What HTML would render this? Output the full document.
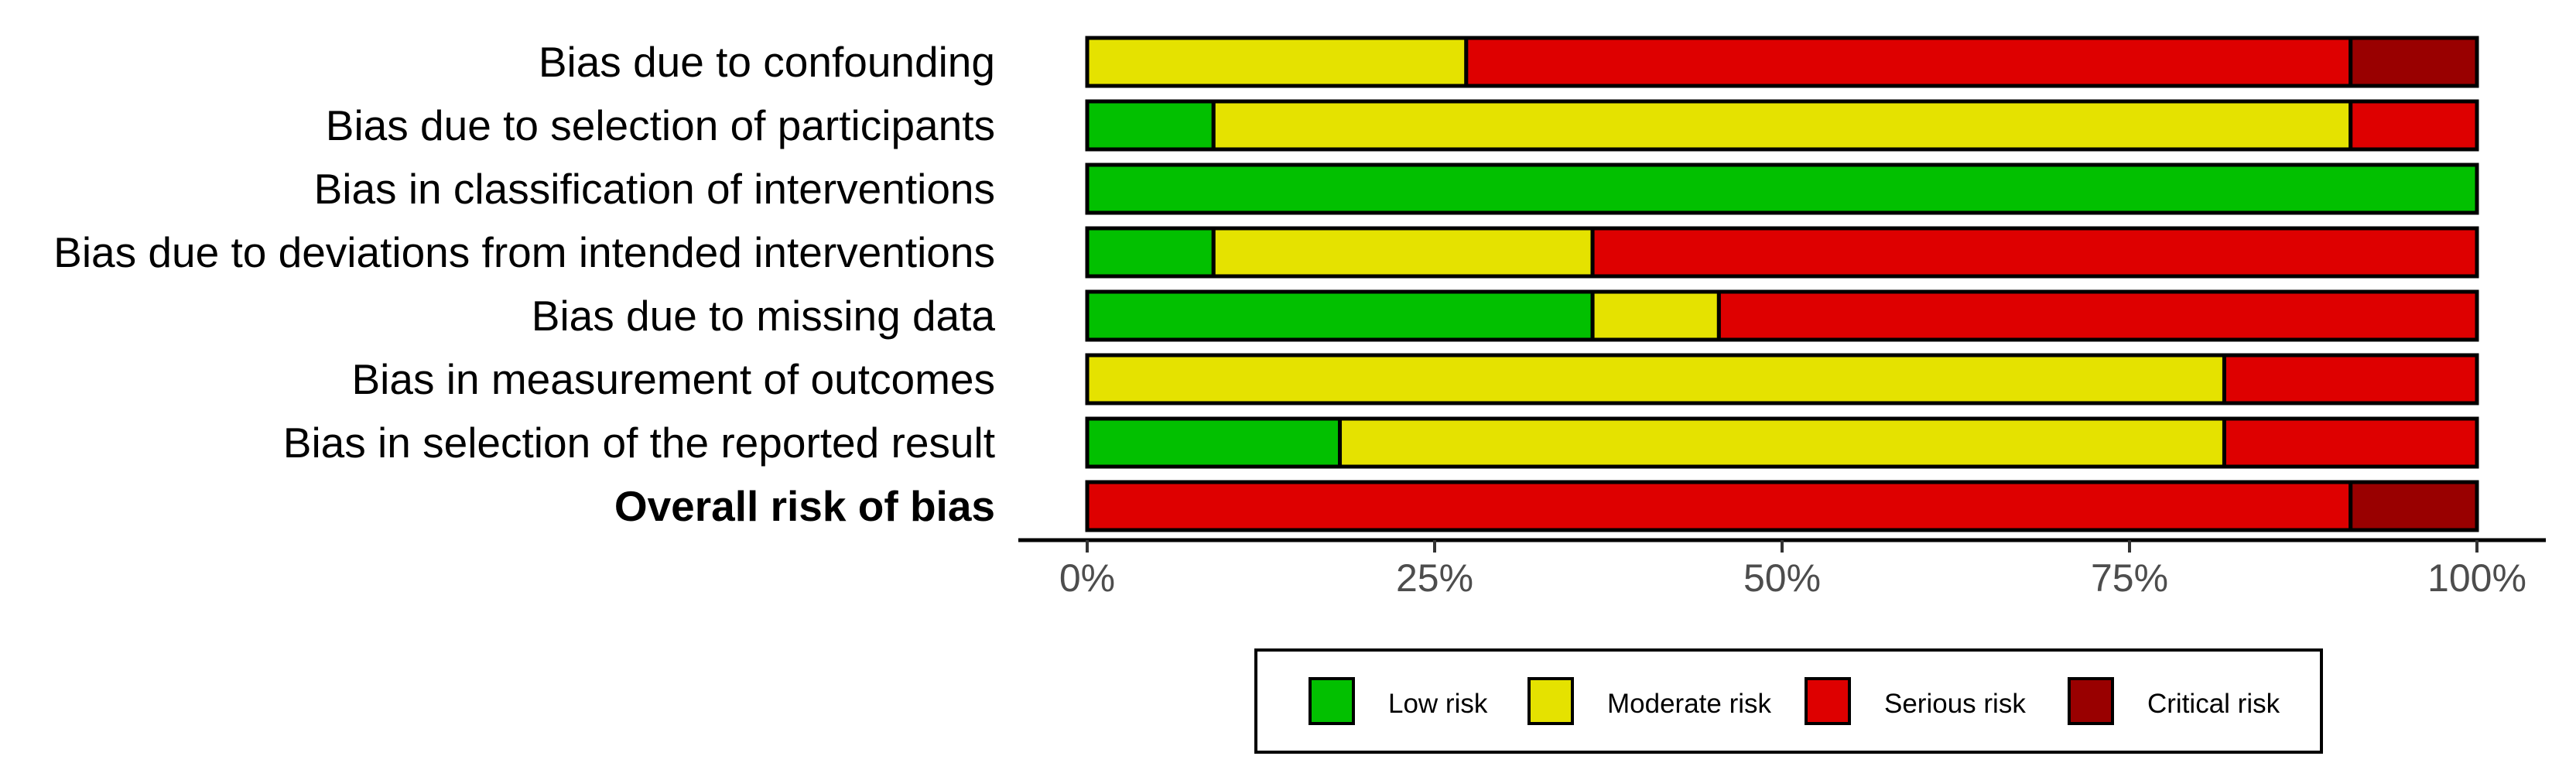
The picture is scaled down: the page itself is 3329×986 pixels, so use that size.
<!DOCTYPE html>
<html><head><meta charset="utf-8"><style>
html,body{margin:0;padding:0;background:#fff;}
svg{display:block;}
</style></head><body>
<svg id="chart" width="3329" height="986" viewBox="0 0 3329 986" xmlns="http://www.w3.org/2000/svg" font-family="'Liberation Sans', sans-serif">
<g id="labels"></g>
<g id="bars"></g>
<g id="axis"></g>
<g id="legend"></g>
</svg>
<script>
const domains = ["Bias due to confounding","Bias due to selection of participants","Bias in classification of interventions","Bias due to deviations from intended interventions","Bias due to missing data","Bias in measurement of outcomes","Bias in selection of the reported result","Overall risk of bias"];
const lowRisk = [0, 1, 11, 1, 4, 0, 2, 0];
const moderateRisk = [3, 9, 0, 3, 1, 9, 7, 0];
const seriousRisk = [7, 1, 0, 7, 6, 2, 2, 10];
const criticalRisk = [1, 0, 0, 0, 0, 0, 0, 1];
const tickValues = [0, 25, 50, 75, 100];
const tickLabels = ["0%", "25%", "50%", "75%", "100%"];
const legendLabels = ["Low risk", "Moderate risk", "Serious risk", "Critical risk"];

const NS = "http://www.w3.org/2000/svg";
const X0 = 1405, X1 = 3201;
const xScale = p => X0 + (X1 - X0) * p / 100;
const BAR_TOP = 49, STEP = 82, BAR_H = 62;
const yScale = i => BAR_TOP + i * STEP;
const colors = ["#02C000", "#E5E200", "#DE0000", "#990000"];
const catNames = ["low", "moderate", "serious", "critical"];
function mk(tag, attrs, parent) {
  const e = document.createElementNS(NS, tag);
  for (const k in attrs) e.setAttribute(k, attrs[k]);
  parent.appendChild(e);
  return e;
}
const gBars = document.getElementById("bars");
const gLabels = document.getElementById("labels");
const gAxis = document.getElementById("axis");
const gLegend = document.getElementById("legend");
const series = [lowRisk, moderateRisk, seriousRisk, criticalRisk];

domains.forEach((d, i) => {
  const total = series.reduce((s, arr) => s + arr[i], 0) || 1;
  let cum = 0;
  const y = yScale(i);
  series.forEach((arr, k) => {
    const v = arr[i];
    if (v <= 0) return;
    const p0 = cum / total * 100, p1 = (cum + v) / total * 100;
    cum += v;
    const r = mk("rect", {x: xScale(p0), y: y, width: xScale(p1) - xScale(p0), height: BAR_H, fill: colors[k], stroke: "#000", "stroke-width": 5}, gBars);
    
    
  });
  const t = mk("text", {x: 1286, y: y + BAR_H / 2 + 19, "text-anchor": "end", "font-size": 55, fill: "#000", "font-weight": i === domains.length - 1 ? "bold" : "normal"}, gLabels);
  t.textContent = d;
  
  
});

const axisLine = mk("line", {x1: 1316, x2: 3290, y1: 698, y2: 698, stroke: "#000", "stroke-width": 5}, gAxis);


tickValues.forEach((v, i) => {
  const x = xScale(v);
  const tk = mk("line", {x1: x, x2: x, y1: 698, y2: 714, stroke: "#333", "stroke-width": 4}, gAxis);
  
  
  const tl = mk("text", {x: x, y: 764, "text-anchor": "middle", "font-size": 50, fill: "#4d4d4d"}, gAxis);
  tl.textContent = tickLabels[i];
  
  
});

const box = mk("rect", {x: 1623, y: 840, width: 1377, height: 132, fill: "#fff", stroke: "#000", "stroke-width": 4}, gLegend);


const swX = [1691, 1974, 2332, 2672];
legendLabels.forEach((lab, k) => {
  const sw = mk("rect", {x: swX[k] + 2, y: 877, width: 56, height: 58, fill: colors[k], stroke: "#000", "stroke-width": 4}, gLegend);
  
  
  const lt = mk("text", {x: swX[k] + 103, y: 921, "font-size": 35, fill: "#000"}, gLegend);
  lt.textContent = lab;
  
  
});
</script>
</body></html>
